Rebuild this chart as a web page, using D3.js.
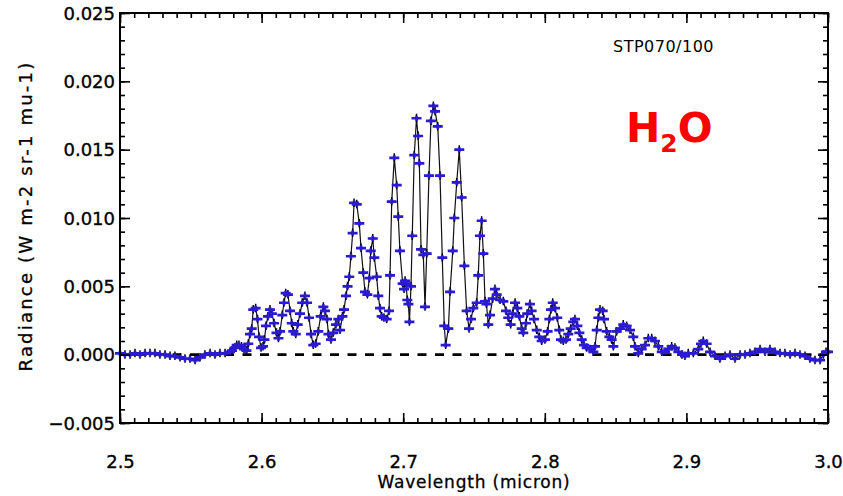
<!DOCTYPE html>
<html><head><meta charset="utf-8">
<script src="https://cdn.jsdelivr.net/npm/d3@7"></script>
<style>
html,body{margin:0;padding:0;background:#fff;}
svg{display:block;}
text{font-family:"DejaVu Sans",sans-serif;}
</style></head>
<body>
<svg id="chart" width="843" height="496"></svg>
<script>
// Wavelength (micron) of each sample
const wavelength = [
2.5000,2.5035,2.5071,2.5106,2.5141,2.5177,2.5212,2.5247,2.5282,2.5318,2.5353,2.5388,2.5424,2.5459,2.5494,2.5530,2.5565,2.5600,2.5636,2.5671,2.5706,2.5742,2.5777,
2.5791,2.5809,2.5824,2.5840,2.5858,2.5876,2.5893,2.5906,2.5918,2.5930,2.5941,2.5958,2.5971,2.5982,2.5996,2.6010,2.6020,2.6031,2.6045,2.6059,2.6073,2.6088,
2.6105,2.6119,2.6130,2.6146,2.6158,2.6170,2.6186,2.6201,2.6213,2.6224,2.6241,2.6255,2.6271,2.6287,2.6306,2.6321,2.6335,2.6349,2.6365,2.6382,2.6400,2.6417,
2.6436,2.6448,2.6462,2.6472,2.6490,2.6506,2.6525,2.6542,2.6554,2.6571,2.6582,2.6596,2.6607,2.6619,2.6631,2.6643,2.6653,2.6672,2.6690,2.6702,2.6718,2.6730,
2.6747,2.6761,2.6771,2.6785,2.6796,2.6813,2.6824,2.6836,2.6848,2.6864,2.6883,2.6900,2.6907,2.6919,2.6937,2.6954,2.6965,2.6977,2.6996,2.7006,2.7013,2.7020,
2.7029,2.7037,2.7044,2.7055,2.7064,2.7078,2.7094,2.7105,2.7114,2.7126,2.7142,2.7154,2.7166,2.7182,2.7196,2.7213,2.7225,2.7244,2.7260,2.7276,2.7290,2.7300,
2.7319,2.7331,2.7350,2.7361,2.7378,2.7396,2.7413,2.7432,2.7448,2.7465,2.7479,2.7495,2.7519,2.7530,2.7542,2.7554,2.7566,2.7578,2.7588,2.7601,2.7613,2.7632,
2.7648,2.7660,2.7684,2.7707,2.7726,2.7742,2.7759,2.7773,2.7790,2.7806,2.7820,2.7837,2.7848,2.7867,2.7876,2.7895,2.7907,2.7924,2.7943,2.7961,2.7978,2.8001,
2.8020,2.8032,2.8044,2.8056,2.8072,2.8088,2.8102,2.8114,2.8131,2.8150,2.8166,2.8183,2.8201,2.8213,2.8230,2.8244,2.8261,2.8277,2.8296,2.8319,2.8343,2.8355,
2.8367,2.8378,2.8390,2.8409,2.8418,2.8437,2.8456,2.8472,2.8484,2.8508,2.8531,2.8554,2.8578,2.8602,2.8625,2.8637,2.8660,2.8684,2.8708,2.8731,2.8755,2.8778,
2.8802,2.8826,2.8849,2.8872,2.8896,2.8919,2.8943,2.8969,2.8990,2.9013,2.9049,2.9084,2.9103,2.9119,2.9143,2.9167,2.9202,2.9237,2.9273,2.9308,2.9343,2.9379,
2.9414,2.9449,2.9484,2.9520,2.9555,2.9590,2.9626,2.9661,2.9696,2.9732,2.9767,2.9802,2.9838,2.9873,2.9908,2.9944,2.9967,2.9986,3.0000
];
// Radiance (W m-2 sr-1 mu-1) of each sample
const radiance = [
0.0001,0.0000,0.0000,0.0001,0.0000,0.0001,0.0001,0.0001,0.0000,0.0000,-0.0001,-0.0001,-0.0002,-0.0003,-0.0003,-0.0004,-0.0002,0.0000,0.0001,0.0000,0.0001,0.0001,0.0002,
0.0003,0.0005,0.0007,0.0007,0.0006,0.0004,0.0003,0.0008,0.0015,0.0019,0.0033,0.0034,0.0026,0.0013,0.0005,0.0006,0.0011,0.0021,0.0028,0.0033,0.0030,0.0023,
0.0016,0.0012,0.0017,0.0029,0.0038,0.0045,0.0044,0.0032,0.0023,0.0017,0.0015,0.0022,0.0030,0.0038,0.0043,0.0038,0.0027,0.0015,0.0007,0.0008,0.0017,0.0028,
0.0035,0.0032,0.0026,0.0015,0.0011,0.0016,0.0022,0.0026,0.0018,0.0028,0.0033,0.0043,0.0050,0.0057,0.0072,0.0089,0.0111,0.0110,0.0096,0.0078,0.0060,0.0046,
0.0044,0.0056,0.0076,0.0085,0.0071,0.0057,0.0043,0.0034,0.0028,0.0027,0.0026,0.0032,0.0058,0.0112,0.0144,0.0124,0.0101,0.0076,0.0052,0.0048,0.0054,0.0052,
0.0040,0.0037,0.0024,0.0050,0.0087,0.0146,0.0173,0.0160,0.0140,0.0077,0.0073,0.0035,0.0074,0.0131,0.0171,0.0182,0.0178,0.0167,0.0131,0.0071,0.0021,0.0007,
0.0019,0.0046,0.0076,0.0100,0.0126,0.0150,0.0115,0.0065,0.0032,0.0019,0.0026,0.0034,0.0038,0.0058,0.0087,0.0098,0.0074,0.0039,0.0037,0.0022,0.0029,0.0041,
0.0048,0.0044,0.0040,0.0039,0.0032,0.0027,0.0022,0.0030,0.0038,0.0034,0.0028,0.0019,0.0016,0.0023,0.0030,0.0037,0.0032,0.0026,0.0018,0.0013,0.0010,0.0011,
0.0017,0.0026,0.0033,0.0038,0.0034,0.0027,0.0018,0.0011,0.0010,0.0011,0.0015,0.0019,0.0024,0.0026,0.0021,0.0016,0.0011,0.0007,0.0005,0.0004,0.0002,0.0006,
0.0018,0.0027,0.0033,0.0032,0.0026,0.0017,0.0013,0.0011,0.0006,0.0017,0.0019,0.0022,0.0021,0.0018,0.0013,0.0006,0.0001,0.0004,0.0007,0.0012,0.0012,0.0010,
0.0006,0.0002,0.0002,0.0004,0.0006,0.0005,0.0002,0.0000,-0.0001,0.0001,0.0001,0.0004,0.0008,0.0010,0.0008,0.0002,-0.0001,-0.0003,-0.0001,0.0000,-0.0003,0.0000,
0.0000,0.0001,0.0002,0.0004,0.0002,0.0004,0.0002,0.0001,0.0001,0.0000,0.0001,0.0000,-0.0001,-0.0003,-0.0004,-0.0004,0.0000,0.0002,0.0002
];
const xTicks = [2.5, 2.6, 2.7, 2.8, 2.9, 3.0];
const yTicks = [-0.005, 0.000, 0.005, 0.010, 0.015, 0.020, 0.025];
const xTitle = "Wavelength (micron)";
const yTitle = "Radiance (W m-2 sr-1 mu-1)";
const runLabel = "STP070/100";

const data = wavelength.map((w, i) => ({w, r: radiance[i]}));
const svg = d3.select("#chart");
const L = 120, R = 828, T = 13, B = 423;
const x = d3.scaleLinear().domain([2.5, 3.0]).range([L, R]);
const y = d3.scaleLinear().domain([-0.005, 0.025]).range([B, T]);

// zero dashed line
svg.append("line").attr("x1", L).attr("x2", R).attr("y1", y(0)).attr("y2", y(0))
  .attr("stroke", "#000").attr("stroke-width", 2.6).attr("stroke-dasharray", "9,8.5");

// data line
svg.append("path").datum(data)
  .attr("d", d3.line().x(d => x(d.w)).y(d => y(d.r)))
  .attr("fill", "none").attr("stroke", "#111").attr("stroke-width", 1.2);

// markers: black plus, then blue plus
const mg = svg.append("g");
mg.selectAll("path.k").data(data).join("path").attr("class", "k")
  .attr("transform", d => `translate(${x(d.w)},${y(d.r)})`)
  .attr("d", "M-3.5,0H3.5M0,-4.5V4").attr("stroke", "#000").attr("stroke-width", 1.5).attr("fill", "none");
mg.selectAll("path.b").data(data).join("path").attr("class", "b")
  .attr("transform", d => `translate(${x(d.w)},${y(d.r)})`)
  .attr("d", "M-5,0H5M0,-2.5V2.5").attr("stroke", "#2a1ad2").attr("stroke-width", 2.7).attr("fill", "none");

// axes with inward ticks (IDL style)
const axisG = svg.append("g");
const xMinor = d3.range(0, 51).map(i => 2.5 + i * 0.01);
const yMinor = d3.range(0, 31).map(i => -0.005 + i * 0.001);
const axBottom = axisG.append("g").attr("transform", `translate(0,${B})`)
  .call(d3.axisBottom(x).tickValues(xTicks).tickSize(-10).tickFormat(d3.format(".1f")));
axisG.append("g").attr("transform", `translate(0,${T})`)
  .call(d3.axisTop(x).tickValues(xTicks).tickSize(-10).tickFormat(""));
axisG.append("g").attr("transform", `translate(0,${B})`)
  .call(d3.axisBottom(x).tickValues(xMinor).tickSize(-5).tickFormat(""));
axisG.append("g").attr("transform", `translate(0,${T})`)
  .call(d3.axisTop(x).tickValues(xMinor).tickSize(-5).tickFormat(""));
const axLeft = axisG.append("g").attr("transform", `translate(${L},0)`)
  .call(d3.axisLeft(y).tickValues(yTicks).tickSize(-10).tickFormat(d3.format(".3f")));
axisG.append("g").attr("transform", `translate(${R},0)`)
  .call(d3.axisRight(y).tickValues(yTicks).tickSize(-10).tickFormat(""));
axisG.append("g").attr("transform", `translate(${L},0)`)
  .call(d3.axisLeft(y).tickValues(yMinor).tickSize(-5).tickFormat(""));
axisG.append("g").attr("transform", `translate(${R},0)`)
  .call(d3.axisRight(y).tickValues(yMinor).tickSize(-5).tickFormat(""));
axisG.selectAll(".domain").remove();
axisG.selectAll(".tick line").attr("stroke", "#000").attr("stroke-width", 1.6);
axisG.selectAll(".tick text").attr("fill", "#000").attr("font-size", 18).attr("font-family", "DejaVu Sans")
  .attr("stroke", "#000").attr("stroke-width", 0.35);
axBottom.selectAll(".tick text").attr("dy", null).attr("y", 45);
axLeft.selectAll(".tick text").attr("x", -5).attr("dy", "0.35em");
svg.append("rect").attr("x", L).attr("y", T).attr("width", R - L).attr("height", B - T)
  .attr("fill", "none").attr("stroke", "#000").attr("stroke-width", 2);

// titles
svg.append("text").attr("x", 474).attr("y", 488).attr("text-anchor", "middle")
  .attr("font-size", 17).attr("letter-spacing", 0.8).attr("stroke", "#000").attr("stroke-width", 0.3).text(xTitle);
svg.append("text").attr("transform", "translate(32,216) rotate(-90)").attr("text-anchor", "middle")
  .attr("font-size", 18).attr("letter-spacing", 2.2).attr("stroke", "#000").attr("stroke-width", 0.3).text(yTitle);
svg.append("text").attr("x", 613).attr("y", 52).attr("font-size", 16).attr("letter-spacing", 0.5).text(runLabel);
const h2o = svg.append("text").attr("x", 626).attr("y", 142).attr("fill", "#ff0000")
  .attr("font-family", "Open Sans").attr("font-weight", "bold").attr("font-size", 41);
h2o.append("tspan").text("H");
h2o.append("tspan").attr("font-size", 25).attr("dy", 10).text("2");
h2o.append("tspan").attr("dy", -10).text("O");
</script>
</body></html>
